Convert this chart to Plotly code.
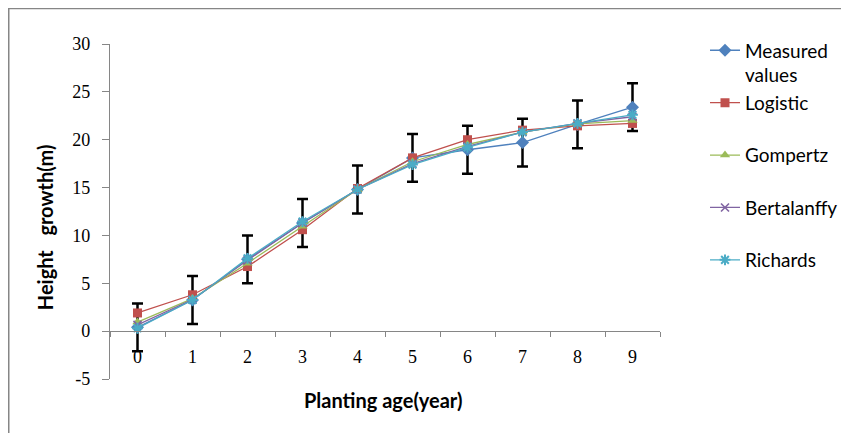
import plotly.graph_objects as go

ages = ["0", "1", "2", "3", "4", "5", "6", "7", "8", "9"]
measured = [0.4, 3.25, 7.5, 11.3, 14.8, 18.1, 18.95, 19.7, 21.6, 23.4]
measured_err = [2.5] * 10
logistic = [1.9, 3.8, 6.75, 10.6, 14.9, 18.1, 20.0, 21.0, 21.45, 21.7]
gompertz = [0.95, 3.4, 7.1, 10.95, 14.8, 17.7, 19.5, 20.8, 21.65, 22.0]
bertalanffy = [0.65, 3.3, 7.4, 11.3, 14.8, 17.5, 19.3, 20.8, 21.7, 22.4]
richards = [0.3, 3.25, 7.6, 11.45, 14.8, 17.4, 19.2, 20.8, 21.7, 22.6]
y_ticks = [-5, 0, 5, 10, 15, 20, 25, 30]
y_tick_labels = ["-5", "0", "5", "10", "15", "20", "25", "30"]

names = ["Measured<br>values", "Logistic<br>\u00a0", "Gompertz<br>\u00a0",
         "Bertalanffy<br>\u00a0", "Richards<br>\u00a0"]
colors = ["#4F81BD", "#C0504D", "#9BBB59", "#8064A2", "#4BACC6"]

# figure pixel geometry (page body adds an 8px offset on screen)
W, H = 849, 433
ML, MR, MT, MB = 102, 0, 36.3, 61.7
PW = W - ML - MR
PH = H - MT - MB
PLOT_RIGHT = 652


def px_x(x):
    return (x - ML) / PW


def px_y(y):
    return (H - MB - y) / PH


fig = go.Figure()

fig.add_trace(go.Scatter(
    x=ages, y=measured, name=names[0], legendgroup="a",
    mode="lines+markers",
    line=dict(color=colors[0], width=1.3),
    marker=dict(symbol="diamond", size=10, color=colors[0]),
    error_y=dict(type="data", array=measured_err, visible=True,
                 color="black", thickness=2.5, width=5.5),
))
fig.add_trace(go.Scatter(
    x=ages, y=logistic, name=names[1], legendgroup="b",
    mode="lines+markers",
    line=dict(color=colors[1], width=1.3),
    marker=dict(symbol="square", size=9, color=colors[1]),
))
fig.add_trace(go.Scatter(
    x=ages, y=gompertz, name=names[2], legendgroup="c",
    mode="lines+markers",
    line=dict(color=colors[2], width=1.3),
    marker=dict(symbol="triangle-up", size=9, color=colors[2]),
))
fig.add_trace(go.Scatter(
    x=ages, y=bertalanffy, name=names[3], legendgroup="d",
    mode="lines+markers",
    line=dict(color=colors[3], width=1.3),
    marker=dict(symbol="x-thin-open", size=8, color=colors[3],
                line=dict(color=colors[3], width=1.6)),
))
fig.add_trace(go.Scatter(
    x=ages, y=richards, name=names[4], legendgroup="e",
    mode="lines+markers",
    line=dict(color=colors[4], width=1.3),
    marker=dict(symbol="asterisk-open", size=9, color=colors[4],
                line=dict(color=colors[4], width=2)),
))

axis_color = "#868686"
fig.update_layout(
    width=W, height=H,
    margin=dict(l=ML, r=MR, t=MT, b=MB, autoexpand=False),
    paper_bgcolor="white", plot_bgcolor="white",
    showlegend=True,
    legend=dict(
        x=px_x(697), y=px_y(23.7), xanchor="left", yanchor="top",
        font=dict(family="Lato", size=19, color="black"),
        valign="top", traceorder="grouped", tracegroupgap=0,
        bgcolor="rgba(0,0,0,0)", maxheight=400,
    ),
    xaxis=dict(
        type="category", domain=[0, (PLOT_RIGHT - ML) / PW],
        anchor="free", position=5 / 35,
        showline=True, linecolor=axis_color, linewidth=1.3,
        ticks="outside", tickson="boundaries", ticklen=5,
        tickcolor=axis_color, tickwidth=1.3,
        showgrid=False, zeroline=False,
        tickfont=dict(family="Liberation Serif", size=18, color="black"),
        ticklabelstandoff=9,
        range=[-0.5, 9.5],
    ),
    yaxis=dict(
        range=[-5, 30], tickvals=y_ticks, ticktext=y_tick_labels,
        showline=True, linecolor=axis_color, linewidth=1.3,
        ticks="outside", ticklen=7, tickcolor=axis_color, tickwidth=1.3,
        showgrid=False, zeroline=False,
        tickfont=dict(family="Liberation Serif", size=18, color="black"),
        ticklabelstandoff=8,
    ),
    annotations=[
        dict(text="<b>Planting age(year)</b>", xref="paper", yref="paper",
             x=px_x(375), y=px_y(392.7), xanchor="center", yanchor="middle",
             showarrow=False, font=dict(family="Lato", size=20, color="black")),
        dict(text="<b>Height\u00a0\u00a0 growth(m)</b>", xref="paper", yref="paper",
             x=px_x(37), y=px_y(219.5), xanchor="center", yanchor="middle",
             textangle=-90,
             showarrow=False, font=dict(family="Lato", size=20, color="black")),
    ],
    shapes=[
        dict(type="rect", xref="paper", yref="paper",
             x0=px_x(0.75), y0=px_y(480), x1=px_x(900), y1=px_y(0.75),
             line=dict(color=axis_color, width=1.5), layer="below"),
    ],
)

fig.write_html("out.html")
